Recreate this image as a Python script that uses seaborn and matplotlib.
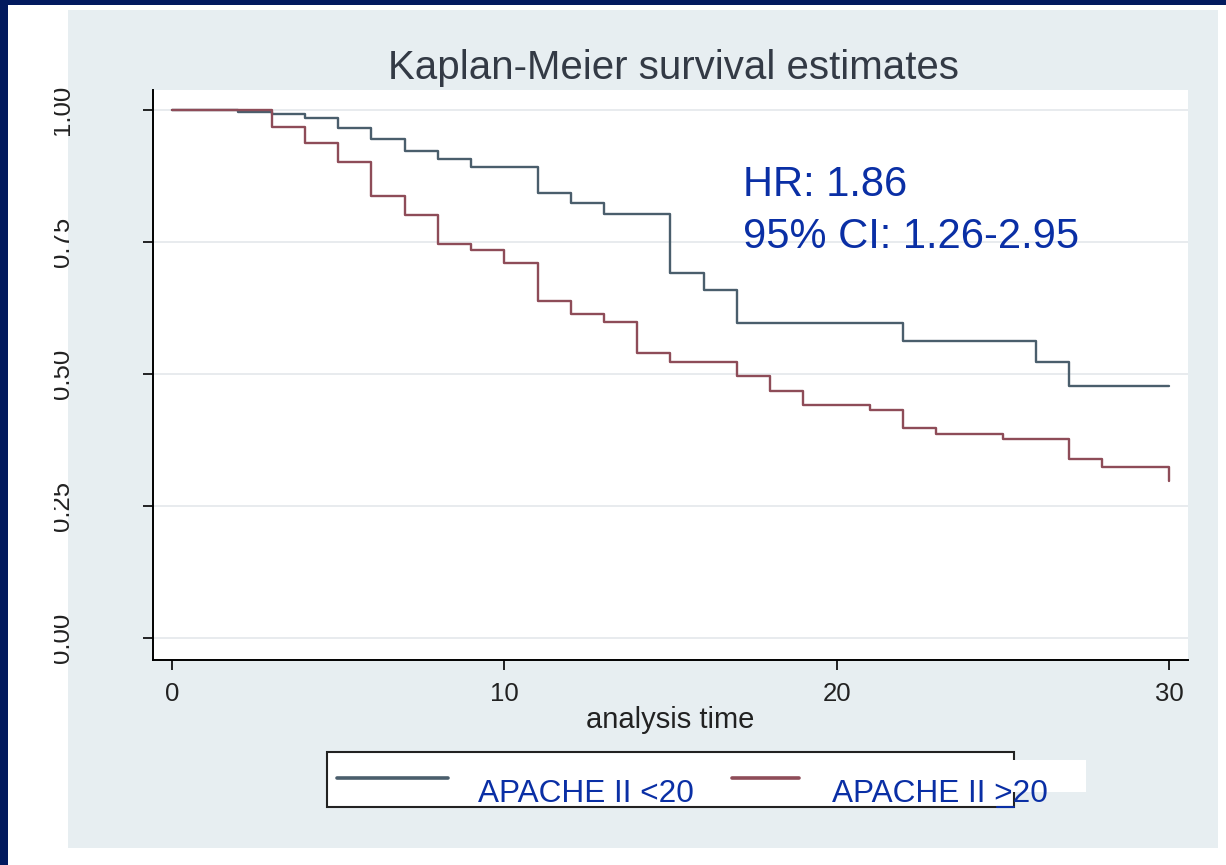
import numpy as np
import pandas as pd
import matplotlib
matplotlib.use("Agg")
import matplotlib.pyplot as plt
import seaborn as sns
from matplotlib.patches import Rectangle
from matplotlib.lines import Line2D
from matplotlib.transforms import Bbox, TransformedBbox

# ---------------- data ----------------
groups = ["APACHE II <20", "APACHE II >20"]
times_low = [0, 2, 3, 4, 5, 6, 7, 8, 9, 11, 12, 13, 15, 16, 17, 22, 26, 27, 30]
surv_low = [1.0, 0.996, 0.992, 0.984, 0.965, 0.945, 0.922, 0.907, 0.893, 0.842,
            0.823, 0.803, 0.692, 0.659, 0.596, 0.5625, 0.522, 0.478, 0.478]
times_high = [0, 3, 4, 5, 6, 7, 8, 9, 10, 11, 12, 13, 14, 15, 17, 18, 19, 21,
              22, 23, 25, 27, 28, 30]
surv_high = [1.0, 0.967, 0.938, 0.901, 0.838, 0.801, 0.746, 0.735, 0.710, 0.639,
             0.613, 0.599, 0.540, 0.522, 0.496, 0.468, 0.441, 0.432, 0.397,
             0.386, 0.376, 0.339, 0.324, 0.297]
x_ticks = [0, 10, 20, 30]
y_ticks = [0.0, 0.25, 0.50, 0.75, 1.0]
y_tick_labels = ["0.00", "0.25", "0.50", "0.75", "1.00"]
title = "Kaplan-Meier survival estimates"
x_label = "analysis time"
hr_lines = ["HR: 1.86", "95% CI: 1.26-2.95"]

df = pd.concat([
    pd.DataFrame({"time": times_low, "surv": surv_low, "group": groups[0]}),
    pd.DataFrame({"time": times_high, "surv": surv_high, "group": groups[1]}),
], ignore_index=True)

# ---------------- style ----------------
sns.set_theme(style="white")
plt.rcParams["font.family"] = ["Liberation Sans", "DejaVu Sans"]

W, H = 1226, 865
fig = plt.figure(figsize=(W / 100, H / 100), dpi=100)
fig.patch.set_facecolor("white")

def fx(px):
    return px / W

def fy(py):
    return 1 - py / H

navy = "#021a5e"
panel = "#e7eef1"
blue_txt = "#0a2fa5"
col_low = "#4a5e6c"
col_high = "#8e4c58"

# background panels
fig.add_artist(Rectangle((fx(68), fy(848)), fx(1218) - fx(68), fy(10) - fy(848),
                         transform=fig.transFigure, facecolor=panel, edgecolor="none", zorder=-5))
fig.add_artist(Rectangle((0, 0), fx(8), 1, transform=fig.transFigure,
                         facecolor=navy, edgecolor="none", zorder=-4))
fig.add_artist(Rectangle((0, fy(5)), 1, 1 - fy(5), transform=fig.transFigure,
                         facecolor=navy, edgecolor="none", zorder=-4))

ax = fig.add_axes([fx(153), fy(660), fx(1188) - fx(153), fy(90) - fy(660)])
ax.set_facecolor("white")

sns.lineplot(data=df, x="time", y="surv", hue="group", hue_order=groups,
             palette=[col_low, col_high], estimator=None, drawstyle="steps-post",
             linewidth=1.7, legend=False, ax=ax, zorder=3)

ax.set_xlim(-0.572, 30.575)
ax.set_ylim(-0.0417, 1.0379)
ax.set_xticks(x_ticks)
ax.set_yticks(y_ticks)
ax.set_xticklabels([str(t) for t in x_ticks])
ax.tick_params(axis="x", direction="out", length=7, width=1.2, color="black",
               labelsize=18.5, labelcolor="#222222", pad=8.5, bottom=True)
ax.tick_params(axis="y", direction="out", length=7, width=1.2, color="black",
               labelleft=False, left=True)
for s in ["top", "right"]:
    ax.spines[s].set_visible(False)
for s in ["left", "bottom"]:
    ax.spines[s].set_color("black")
    ax.spines[s].set_linewidth(1.4)
ax.grid(axis="y", color="#e4e8eb", linewidth=1.2)
ax.grid(axis="x", visible=False)
ax.set_axisbelow(True)

ax.set_xlabel(x_label, fontsize=21, color="#222222")
ax.xaxis.set_label_coords(0.5, -0.081)
ax.xaxis.label.set_va("top")
ax.set_ylabel("")

# rotated y tick labels, clipped on the left as in the screenshot
clip_bb = TransformedBbox(Bbox.from_extents(fx(54.5), 0, 1, 1), fig.transFigure)
for yv, lab in zip(y_ticks, y_tick_labels):
    t = ax.text((74 - 153) / 1035, yv, lab, transform=ax.get_yaxis_transform(),
                rotation=90, ha="right", va="center", fontsize=18.5, color="#222222")
    t.set_clip_path(None)
    t.set_clip_box(clip_bb)
    t.set_clip_on(True)

# HR annotation
ax.text(17.18, 0.838, hr_lines[0], fontsize=30, color=blue_txt, va="baseline", ha="left")
ax.text(17.18, 0.738, hr_lines[1], fontsize=30, color=blue_txt, va="baseline", ha="left")

# title
fig.text(fx(674), fy(79), title, ha="center", va="baseline", fontsize=29, color="#333a45")

# legend box (Stata legend with overlaid labels)
fig.add_artist(Rectangle((fx(327), fy(807)), fx(1014) - fx(327), fy(752) - fy(807),
                         transform=fig.transFigure, facecolor="white",
                         edgecolor="#222222", linewidth=1.5, zorder=5))
fig.add_artist(Line2D([fx(337), fx(448)], [fy(778), fy(778)], transform=fig.transFigure,
                      color=col_low, linewidth=2.6, zorder=6))
fig.add_artist(Line2D([fx(732), fx(799)], [fy(778), fy(778)], transform=fig.transFigure,
                      color=col_high, linewidth=2.6, zorder=6))
fig.add_artist(Rectangle((fx(805), fy(792)), fx(1086) - fx(805), fy(760) - fy(792),
                         transform=fig.transFigure, facecolor="white",
                         edgecolor="none", zorder=7))
fig.text(fx(478), fy(802), groups[0], fontsize=22.7, color=blue_txt, va="baseline",
         ha="left", zorder=8)
fig.text(fx(832), fy(802), groups[1], fontsize=22.7, color=blue_txt, va="baseline",
         ha="left", zorder=8)
fig.add_artist(Line2D([fx(997), fx(1014)], [fy(807), fy(807)], transform=fig.transFigure,
                      color=blue_txt, linewidth=1.5, zorder=8))

fig.savefig("out.png", dpi=100)
